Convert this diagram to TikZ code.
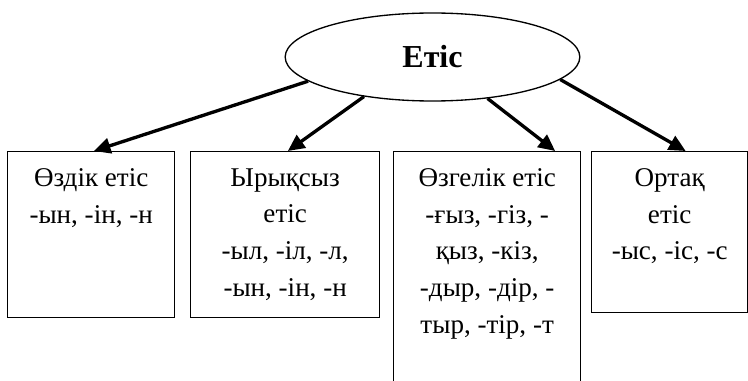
\documentclass[tikz,border=0pt]{standalone}
\usepackage{fontspec}
\setmainfont{Liberation Serif}
\usetikzlibrary{shapes.geometric,arrows.meta,positioning}

\tikzset{
  vbox/.style={draw, line width=1pt, rectangle, anchor=north west, inner sep=0pt},
  vtext/.style={align=center, inner sep=0pt, font=\fontsize{20.3}{27.5}\selectfont},
  varrow/.style={line width=2.5pt, -{Triangle[length=12.5pt,width=11.5pt]}}
}

\begin{document}
\begin{tikzpicture}
  [x=0.75pt,y=-0.75pt]
\useasboundingbox (0,0) rectangle (748,381);
\node (et)[ellipse, draw, line width=1pt, minimum width=221pt, minimum height=66pt,
  font=\fontsize{24}{28}\selectfont\bfseries] at (432.5,57) {Етіс};
  \node (b1)[vbox, minimum width=125.25pt, minimum height=124.5pt] at (7,151) {};
  \node (b2)[vbox, minimum width=141.75pt, minimum height=124.5pt] at (190,151) {};
  \node (b3)[vbox, minimum width=140.25pt, minimum height=183pt] at (393,151) {};
  \node (b4)[vbox, minimum width=117pt, minimum height=120.75pt] at (591,151) {};

  \node (t1)[vtext, below=13pt of b1.north] {Өздік етіс\\-ын, -ін, -н};
  \node (t2)[vtext, below=13pt of b2.north] {Ырықсыз\\етіс\\-ыл, -іл, -л,\\-ын, -ін, -н};
  \node (t3)[vtext, below=13pt of b3.north] {Өзгелік етіс\\-ғыз, -гіз, -\\қыз, -кіз,\\-дыр, -дір, -\\тыр, -тір, -т};
  \node (t4)[vtext, below=13pt of b4.north] {Ортақ\\етіс\\-ыс, -іс, -с};

 \path[varrow]
   (et.191.7) edge ([xshift=2pt]b1.north)
   (et.210.2) edge ([xshift=2pt]b2.north)
   (et.323.2) edge ([xshift=51pt]b3.north)
   (et.350) edge ([xshift=12pt]b4.north);

\end{tikzpicture}
\end{document}
